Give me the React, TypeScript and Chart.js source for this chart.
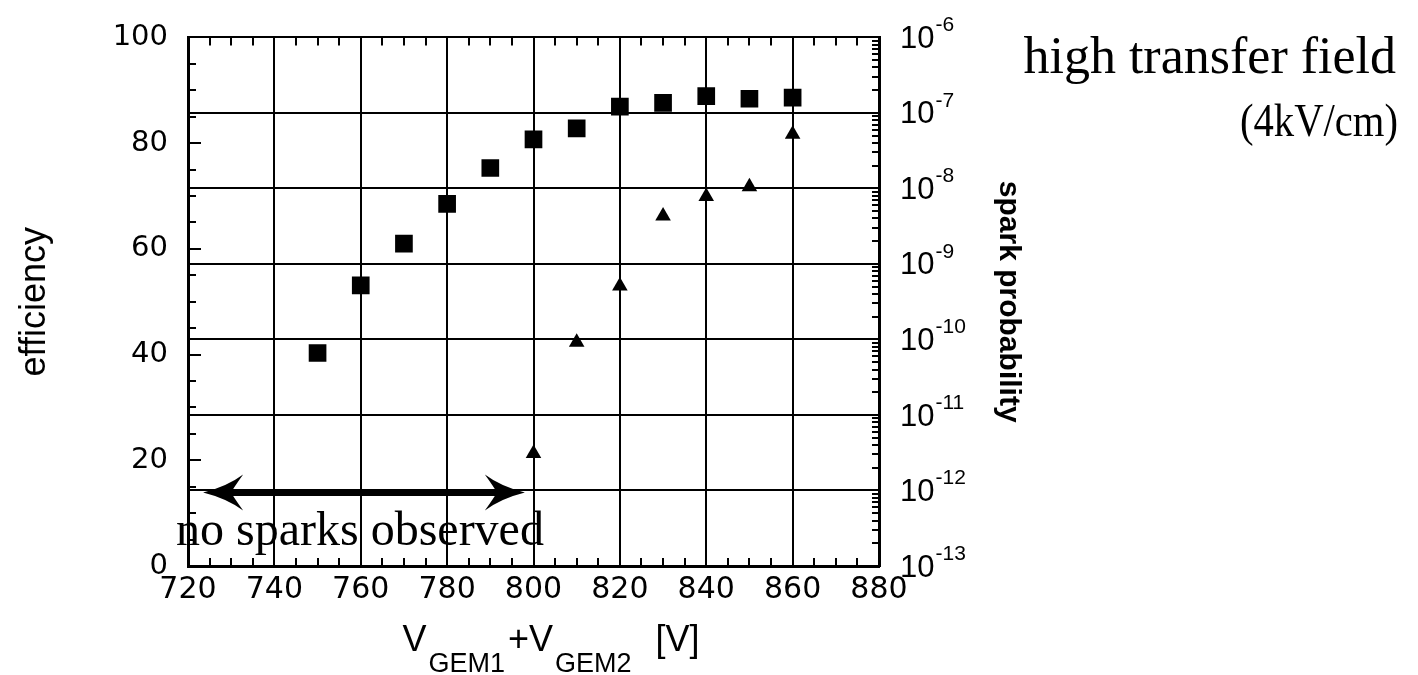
import React, { useEffect, useRef } from 'react';
import { Chart, registerables } from 'chart.js';

Chart.register(...registerables);

// ---- data ----
const voltages = [750, 760, 770, 780, 790, 800, 810, 820, 830, 840, 850, 860];
const efficiency = [40.3, 53.1, 61.0, 68.5, 75.3, 80.7, 82.8, 86.9, 87.6, 88.9, 88.4, 88.6];
const sparkVoltages = [800, 810, 820, 830, 840, 850, 860];
const sparkProbability = [3.1e-12, 9.2e-11, 5.1e-10, 4.3e-9, 7.8e-9, 1.05e-8, 5.2e-8];

const xRange = [720, 880];
const xMajorStep = 20;
const xMinorStep = 5;
const efficiencyRange = [0, 100];
const efficiencyMajorStep = 20;
const efficiencyMinorStep = 5;
const sparkDecades = [-13, -12, -11, -10, -9, -8, -7, -6];

const arrowRange = [723.5, 798];
const arrowLevel = 13.9;
const noSparksText = 'no sparks observed';
const annotationLines = ['high transfer field', '(4kV/cm)'];
const xTitleParts = ['V', 'GEM1', '+V', 'GEM2', '[V]'];
const yTitle = 'efficiency';
const y2Title = 'spark probability';

const SANS = "'Liberation Sans', Arial, sans-serif";
const DEJAVU = "'DejaVu Sans', sans-serif";
const SERIF = "'Liberation Serif', 'Times New Roman', serif";

const isDecade = (v: number) => {
  const l = Math.log10(v);
  return Math.abs(l - Math.round(l)) < 1e-6;
};

const sparkTicks: number[] = [];
sparkDecades.forEach((e) => {
  sparkTicks.push(Math.pow(10, e));
  if (e < sparkDecades[sparkDecades.length - 1]) {
    for (let k = 2; k <= 9; k++) sparkTicks.push(Number((k * Math.pow(10, e)).toPrecision(3)));
  }
});

const overlayPlugin = {
  id: 'overlay',
  afterDatasetsDraw(chart: any) {
    const ctx = chart.ctx as CanvasRenderingContext2D;
    const xs = chart.scales.x;
    const yl = chart.scales.y;
    const { left, bottom } = chart.chartArea;
    ctx.save();
    // arrow
    const x1 = xs.getPixelForValue(arrowRange[0]);
    const x2 = xs.getPixelForValue(arrowRange[1]);
    const ay = yl.getPixelForValue(arrowLevel);
    ctx.fillStyle = '#000';
    ctx.strokeStyle = '#000';
    ctx.lineWidth = 7;
    ctx.beginPath();
    ctx.moveTo(x1 + 25, ay);
    ctx.lineTo(x2 - 25, ay);
    ctx.stroke();
    const head = (tx: number, dir: number) => {
      ctx.beginPath();
      ctx.moveTo(tx, ay);
      ctx.quadraticCurveTo(tx + dir * 24, ay - 6, tx + dir * 40, ay - 18);
      ctx.quadraticCurveTo(tx + dir * 30, ay - 4, tx + dir * 28, ay);
      ctx.quadraticCurveTo(tx + dir * 30, ay + 4, tx + dir * 40, ay + 18);
      ctx.quadraticCurveTo(tx + dir * 24, ay + 6, tx, ay);
      ctx.closePath();
      ctx.fill();
    };
    head(x1, 1);
    head(x2, -1);
    // no sparks text
    ctx.font = `48px ${SERIF}`;
    ctx.textAlign = 'left';
    ctx.textBaseline = 'alphabetic';
    ctx.fillText(noSparksText, left - 12, bottom - 21);
    ctx.restore();
  },
  afterDraw(chart: any) {
    const ctx = chart.ctx as CanvasRenderingContext2D;
    const xs = chart.scales.x;
    const yl = chart.scales.y;
    const yr = chart.scales.y2;
    const { left, right, top, bottom } = chart.chartArea;
    ctx.save();
    ctx.strokeStyle = '#000';
    ctx.lineWidth = 2;
    const seg = (a: number, b: number, c: number, d: number) => {
      ctx.beginPath();
      ctx.moveTo(a, b);
      ctx.lineTo(c, d);
      ctx.stroke();
    };
    // inward ticks
    xs.ticks.forEach((t: any) => {
      const px = Math.round(xs.getPixelForValue(t.value));
      const len = t.value % xMajorStep === 0 ? 12 : 8;
      seg(px, bottom, px, bottom - len);
      seg(px, top, px, top + len);
    });
    yl.ticks.forEach((t: any) => {
      const py = Math.round(yl.getPixelForValue(t.value));
      const len = t.value % efficiencyMajorStep === 0 ? 13 : 8;
      seg(left, py, left + len, py);
    });
    yr.ticks.forEach((t: any) => {
      const py = Math.round(yr.getPixelForValue(t.value));
      const len = isDecade(t.value) ? 12 : 7;
      seg(right, py, right - len, py);
    });
    // right tick labels 10^n
    ctx.fillStyle = '#000';
    ctx.textAlign = 'left';
    sparkDecades.forEach((e) => {
      const py = yr.getPixelForValue(Math.pow(10, e));
      ctx.font = `31px ${SANS}`;
      ctx.textBaseline = 'middle';
      ctx.fillText('10', right + 21, py + 2);
      const w = ctx.measureText('10').width;
      ctx.font = `21px ${SANS}`;
      ctx.textBaseline = 'alphabetic';
      ctx.fillText('-' + Math.abs(e), right + 21 + w + 1, py - 6);
    });
    // x title with subscripts
    const mainFont = `36px ${SANS}`;
    const subFont = `27px ${SANS}`;
    const base = bottom + 85;
    const subBase = bottom + 106;
    let cx = (left + right) / 2 - 131;
    xTitleParts.forEach((p, i) => {
      const isSub = i === 1 || i === 3;
      ctx.font = isSub ? subFont : mainFont;
      ctx.fillText(p, cx, isSub ? subBase : base);
      cx += ctx.measureText(p).width + (isSub ? (i === 3 ? 24 : 3) : 2);
    });
    // annotation text
    ctx.font = `52px ${SERIF}`;
    ctx.textAlign = 'right';
    ctx.fillText(annotationLines[0], 1396, 73);
    ctx.font = `46px ${SERIF}`;
    const w2 = ctx.measureText(annotationLines[1]).width;
    const targetW = 158;
    ctx.save();
    ctx.translate(1398, 136);
    ctx.scale(targetW / w2, 1);
    ctx.fillText(annotationLines[1], 0, 0);
    ctx.restore();
    ctx.restore();
  },
};

export default function App() {
  const ref = useRef<HTMLCanvasElement | null>(null);
  useEffect(() => {
    if (!ref.current) return;
    const chart = new Chart(ref.current, {
      type: 'scatter',
      data: {
        datasets: [
          {
            label: 'efficiency',
            data: voltages.map((v, i) => ({ x: v, y: efficiency[i] })),
            yAxisID: 'y',
            pointStyle: 'rect',
            pointRadius: 12.5,
            pointHoverRadius: 12.5,
            backgroundColor: '#000',
            borderColor: '#000',
            borderWidth: 0,
            showLine: false,
          },
          {
            label: 'spark probability',
            data: sparkVoltages.map((v, i) => ({ x: v, y: sparkProbability[i] })),
            yAxisID: 'y2',
            pointStyle: 'triangle',
            pointRadius: 9,
            pointHoverRadius: 9,
            backgroundColor: '#000',
            borderColor: '#000',
            borderWidth: 0,
            showLine: false,
          },
        ],
      },
      options: {
        responsive: false,
        animation: false,
        devicePixelRatio: 1,
        layout: { padding: { left: 0, top: 32, right: 389, bottom: 0 } },
        plugins: { legend: { display: false }, tooltip: { enabled: false } },
        scales: {
          x: {
            type: 'linear',
            position: 'bottom',
            min: xRange[0],
            max: xRange[1],
            ticks: {
              stepSize: xMinorStep,
              autoSkip: false,
              maxRotation: 0,
              padding: 6,
              color: '#000',
              font: { family: DEJAVU, size: 30 },
              callback: (v: any) => (v % xMajorStep === 0 ? String(v) : ''),
            },
            grid: {
              drawTicks: false,
              lineWidth: 2,
              color: (c: any) => (c.tick && c.tick.value % xMajorStep === 0 ? '#000' : 'rgba(0,0,0,0)'),
            },
            border: { display: true, color: '#000', width: 3 },
            afterFit: (s: any) => {
              s.height = 109;
            },
          },
          y: {
            type: 'linear',
            position: 'left',
            min: efficiencyRange[0],
            max: efficiencyRange[1],
            ticks: {
              stepSize: efficiencyMinorStep,
              autoSkip: false,
              padding: 20,
              color: '#000',
              font: { family: DEJAVU, size: 29 },
              callback: (v: any) => (v % efficiencyMajorStep === 0 ? String(v) : ''),
            },
            grid: { display: false, drawTicks: false },
            border: { display: true, color: '#000', width: 3 },
            title: {
              display: true,
              text: yTitle,
              color: '#000',
              font: { family: SANS, size: 36, weight: 'normal' },
              padding: { top: 13, bottom: 0 },
            },
            afterFit: (s: any) => {
              s.width = 188;
            },
          },
          y2: {
            type: 'logarithmic',
            position: 'right',
            min: 1e-13,
            max: 1e-6,
            afterBuildTicks: (s: any) => {
              s.ticks = sparkTicks.map((v) => ({ value: v, major: isDecade(v) }));
            },
            ticks: { display: false, autoSkip: false },
            grid: {
              drawTicks: false,
              lineWidth: 2,
              color: (c: any) => (c.tick && isDecade(c.tick.value) ? '#000' : 'rgba(0,0,0,0)'),
            },
            border: { display: true, color: '#000', width: 3 },
            title: {
              display: true,
              text: y2Title,
              color: '#000',
              font: { family: SANS, size: 30, weight: 'bold' },
              padding: { top: 3, bottom: 0 },
            },
            afterFit: (s: any) => {
              s.width = 150;
            },
          },
        },
      },
      plugins: [overlayPlugin],
    } as any);
    return () => chart.destroy();
  }, []);
  return (
    <div style={{ position: 'absolute', left: 0, top: 0, width: 1418, height: 675, background: '#fff' }}>
      <canvas ref={ref} width={1418} height={675} style={{ display: 'block' }} />
    </div>
  );
}
